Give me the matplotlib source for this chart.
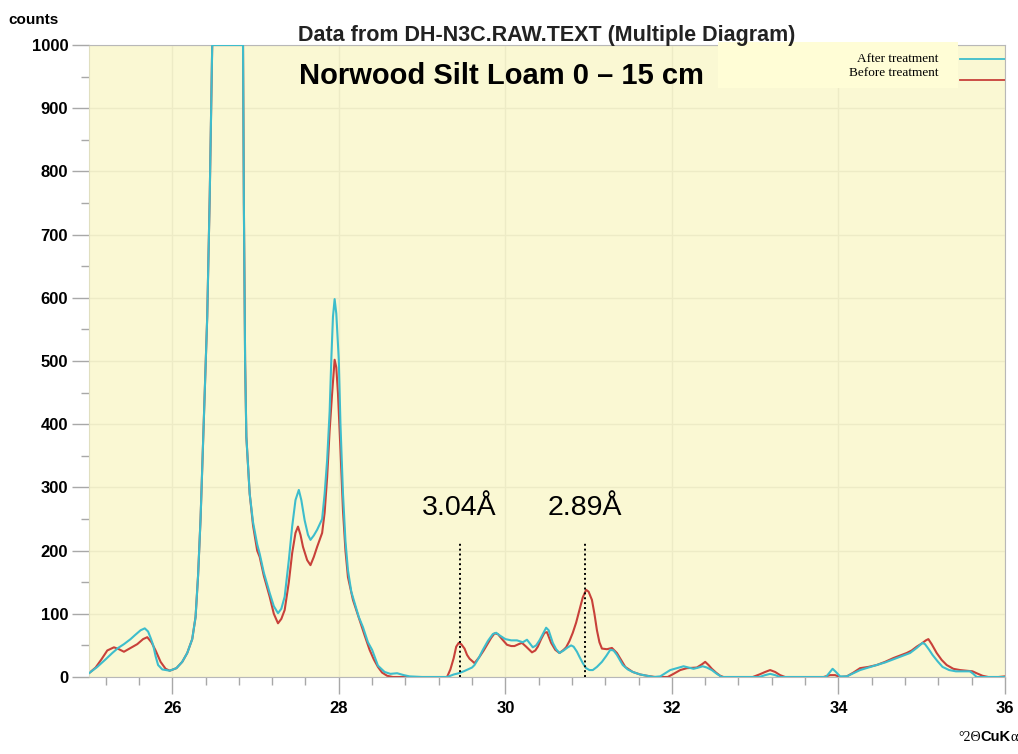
import matplotlib
matplotlib.use("Agg")
import matplotlib.pyplot as plt
from matplotlib.lines import Line2D
from matplotlib.ticker import MultipleLocator

# XRD scan, counts vs 2-theta (Cu K-alpha); main quartz peak is capped at full scale
before_2theta = [25.00, 25.08, 25.15, 25.22, 25.30, 25.36, 25.42, 25.50, 25.58, 25.65,
                 25.70, 25.75, 25.80, 25.86, 25.92, 25.97, 26.05, 26.12, 26.18, 26.24,
                 26.28, 26.31, 26.34, 26.37, 26.42, 26.45, 26.48, 26.60, 26.72, 26.85,
                 26.86, 26.875, 26.89, 26.93, 26.97, 27.02, 27.05, 27.10, 27.17, 27.22,
                 27.27, 27.31, 27.35, 27.40, 27.44, 27.48, 27.51, 27.54, 27.57, 27.62,
                 27.66, 27.70, 27.74, 27.80, 27.83, 27.86, 27.89, 27.92, 27.95, 27.97,
                 27.99, 28.02, 28.05, 28.08, 28.11, 28.17, 28.25, 28.31, 28.37, 28.42,
                 28.47, 28.52, 28.58, 28.65, 29.00, 29.30, 29.34, 29.38, 29.41, 29.44,
                 29.47, 29.51, 29.54, 29.57, 29.63, 29.69, 29.74, 29.78, 29.83, 29.87,
                 29.91, 29.96, 30.02, 30.07, 30.11, 30.16, 30.20, 30.25, 30.32, 30.36,
                 30.39, 30.43, 30.47, 30.50, 30.55, 30.60, 30.65, 30.70, 30.73, 30.77,
                 30.81, 30.85, 30.89, 30.93, 30.97, 31.00, 31.04, 31.07, 31.10, 31.13,
                 31.16, 31.22, 31.28, 31.34, 31.39, 31.44, 31.53, 31.62, 31.70, 31.80,
                 31.95, 32.02, 32.10, 32.18, 32.30, 32.36, 32.40, 32.44, 32.48, 32.53,
                 32.58, 32.62, 32.97, 33.05, 33.12, 33.18, 33.24, 33.30, 33.36, 33.82,
                 33.90, 33.96, 34.02, 34.10, 34.18, 34.26, 34.36, 34.46, 34.56, 34.66,
                 34.74, 34.82, 34.88, 34.94, 35.00, 35.05, 35.08, 35.12, 35.18, 35.24,
                 35.30, 35.38, 35.46, 35.54, 35.61, 35.66, 35.73, 35.80, 35.92, 36.00]
before_counts = [6, 15, 28, 42, 47, 44, 40, 46, 52, 60,
                 63, 55, 42, 24, 13, 10, 14, 24, 38, 60,
                 95, 160, 250, 370, 570, 760, 1000, 1000, 1000, 1000,
                 750, 500, 380, 290, 240, 200, 190, 160, 127, 100,
                 85, 92, 106, 150, 196, 228, 238, 225, 206, 185,
                 177, 190, 206, 228, 260, 316, 390, 449, 502, 490,
                 449, 360, 264, 200, 158, 122, 90, 66, 43, 28,
                 16, 7, 2, 0, 0, 0, 12, 30, 48, 54,
                 52, 45, 35, 29, 22, 32, 42, 51, 62, 69,
                 68, 60, 51, 49, 49, 52, 54, 48, 39, 42,
                 48, 60, 70, 71, 54, 43, 38, 43, 47, 57,
                 70, 86, 106, 126, 138, 135, 122, 100, 74, 55,
                 45, 44, 46, 38, 27, 16, 8, 4, 2, 0,
                 0, 5, 11, 14, 15, 20, 24, 19, 13, 7,
                 2, 0, 0, 4, 8, 11, 8, 3, 0, 0,
                 3, 3, 0, 1, 7, 14, 16, 19, 24, 30,
                 34, 38, 42, 48, 53, 58, 60, 52, 38, 27,
                 19, 13, 11, 10, 9, 6, 2, 0, 0, 1]

after_2theta = [25.00, 25.10, 25.20, 25.28, 25.35, 25.42, 25.50, 25.55, 25.62, 25.67,
                25.71, 25.74, 25.77, 25.80, 25.83, 25.88, 25.97, 26.05, 26.12, 26.18,
                26.24, 26.28, 26.31, 26.34, 26.37, 26.42, 26.45, 26.48, 26.60, 26.72,
                26.85, 26.86, 26.875, 26.89, 26.93, 26.97, 27.02, 27.05, 27.10, 27.17,
                27.22, 27.27, 27.31, 27.35, 27.40, 27.44, 27.48, 27.52, 27.55, 27.59,
                27.63, 27.66, 27.70, 27.74, 27.80, 27.83, 27.86, 27.89, 27.91, 27.93,
                27.95, 27.97, 28.00, 28.02, 28.05, 28.08, 28.11, 28.15, 28.19, 28.24,
                28.29, 28.35, 28.40, 28.47, 28.55, 28.62, 28.70, 28.78, 28.85, 29.00,
                29.30, 29.38, 29.44, 29.50, 29.55, 29.60, 29.63, 29.68, 29.73, 29.79,
                29.85, 29.89, 29.93, 30.00, 30.07, 30.14, 30.21, 30.26, 30.30, 30.33,
                30.37, 30.41, 30.45, 30.49, 30.52, 30.57, 30.61, 30.65, 30.70, 30.75,
                30.79, 30.82, 30.86, 30.89, 30.93, 30.97, 31.01, 31.05, 31.10, 31.16,
                31.21, 31.26, 31.30, 31.34, 31.38, 31.41, 31.47, 31.53, 31.62, 31.70,
                31.78, 31.86, 31.92, 31.98, 32.06, 32.14, 32.20, 32.26, 32.32, 32.37,
                32.42, 32.48, 32.54, 32.60, 33.05, 33.12, 33.18, 33.24, 33.30, 33.85,
                33.90, 33.93, 33.97, 34.02, 34.10, 34.18, 34.26, 34.36, 34.46, 34.56,
                34.66, 34.74, 34.86, 34.94, 35.01, 35.04, 35.09, 35.13, 35.19, 35.25,
                35.33, 35.41, 35.50, 35.58, 35.62, 35.66, 36.00]
after_counts = [6, 16, 28, 38, 46, 52, 60, 66, 74, 77,
                72, 62, 51, 33, 19, 12, 10, 14, 24, 38,
                60, 95, 160, 250, 370, 570, 760, 1000, 1000, 1000,
                1000, 750, 500, 380, 290, 245, 210, 195, 165, 133,
                112, 101, 108, 127, 185, 238, 280, 296, 280, 248,
                225, 217, 224, 233, 250, 290, 343, 420, 502, 570,
                598, 575, 502, 400, 291, 215, 169, 135, 117, 95,
                79, 55, 43, 18, 8, 5, 6, 3, 1, 0,
                0, 4, 6, 9, 12, 15, 19, 30, 43, 57,
                68, 70, 66, 60, 58, 58, 55, 59, 52, 47,
                50, 58, 68, 78, 74, 54, 44, 38, 42, 47,
                50, 48, 40, 32, 22, 14, 11, 11, 16, 24,
                33, 43, 42, 35, 26, 19, 12, 8, 4, 2,
                0, 1, 6, 11, 14, 17, 15, 13, 15, 17,
                15, 11, 5, 0, 0, 3, 5, 3, 0, 0,
                8, 13, 8, 1, 1, 6, 11, 15, 19, 23,
                28, 32, 38, 46, 54, 52, 43, 35, 25, 16,
                11, 9, 9, 9, 5, 0, 0]

marker_2theta = [29.45, 30.96]
marker_labels = ["3.04Å", "2.89Å"]
marker_top = 215
label_base = 256

bg = "#faf8d3"
cyan = "#3dbdcc"
red = "#c8413a"
sans = "Liberation Sans"
serif = "Liberation Serif"

fig = plt.figure(figsize=(10.18, 7.54), dpi=100)
ax = fig.add_axes([0.0874, 0.1021, 0.8998, 0.8382])
ax.set_facecolor(bg)

ax.plot(after_2theta, after_counts, color=cyan, lw=1.5, zorder=3)
ax.plot(before_2theta, before_counts, color=red, lw=1.5, zorder=2)

ax.set_xlim(25, 36)
ax.set_ylim(0, 1000)

ax.xaxis.set_major_locator(MultipleLocator(2))
ax.xaxis.set_minor_locator(MultipleLocator(0.4))
ax.yaxis.set_major_locator(MultipleLocator(100))
ax.yaxis.set_minor_locator(MultipleLocator(50))
ax.tick_params(which="major", length=12, width=1, color="#a8a8a8", direction="out")
ax.tick_params(which="minor", length=6, width=1, color="#a8a8a8", direction="out")
ax.tick_params(axis="x", which="major", pad=5)
ax.tick_params(axis="y", which="major", pad=3)
for lab in ax.get_xticklabels() + ax.get_yticklabels():
    lab.set_fontfamily(sans)
    lab.set_fontweight("bold")
    lab.set_fontsize(12)

ax.grid(True, which="major", color="#edebc6", lw=1)
ax.set_axisbelow(True)
for side in ["top", "right", "bottom"]:
    ax.spines[side].set_color("#b8b8b8")
ax.spines["left"].set_color("#e0dfc0")

# d-spacing markers
ax.vlines(marker_2theta, 0, marker_top, colors="black", linestyles=(0, (1, 1.5)), lw=1.4, zorder=4)
for x, lab in zip(marker_2theta, marker_labels):
    ax.text(x, label_base, lab, ha="center", va="baseline", fontsize=20.5, family=sans)

# legend panel in the upper right
ax.add_patch(plt.Rectangle((0.687, 0.932), 0.262, 0.073, transform=ax.transAxes,
                           facecolor="#fffdd6", edgecolor="none", zorder=5, clip_on=False))
ax.text(0.927, 0.978, "After treatment", transform=ax.transAxes, ha="right", va="center",
        fontsize=9.5, family=serif, zorder=6)
ax.text(0.927, 0.956, "Before treatment", transform=ax.transAxes, ha="right", va="center",
        fontsize=9.5, family=serif, zorder=6)
ax.add_line(Line2D([0.951, 1.0], [0.978, 0.978], transform=ax.transAxes, color=cyan, lw=1.3, zorder=6))
ax.add_line(Line2D([0.951, 1.0], [0.945, 0.945], transform=ax.transAxes, color=red, lw=1.3, zorder=6))

ax.text(0.229, 0.951, "Norwood Silt Loam 0 – 15 cm", transform=ax.transAxes, ha="left",
        va="center", fontsize=21, fontweight="bold", family=sans, zorder=6)

fig.text(0.537, 0.953, "Data from DH-N3C.RAW.TEXT (Multiple Diagram)", ha="center",
         va="center", fontsize=15.5, fontweight="bold", family=sans, color="#222222")
fig.text(0.008, 0.973, "counts", ha="left", va="center", fontsize=11, fontweight="bold", family=sans)

# axis unit at the lower right
t1 = fig.text(0.941, 0.017, "°2Θ", ha="left", va="baseline", fontsize=10, family=serif)
t2 = ax.annotate("CuK", xy=(1, 0), xycoords=t1, va="bottom", ha="left",
                 fontsize=10.5, fontweight="bold", family=sans)
ax.annotate("α", xy=(1, 0), xycoords=t2, va="bottom", ha="left", fontsize=10.5, family=serif)

fig.savefig("out.png", dpi=100)
